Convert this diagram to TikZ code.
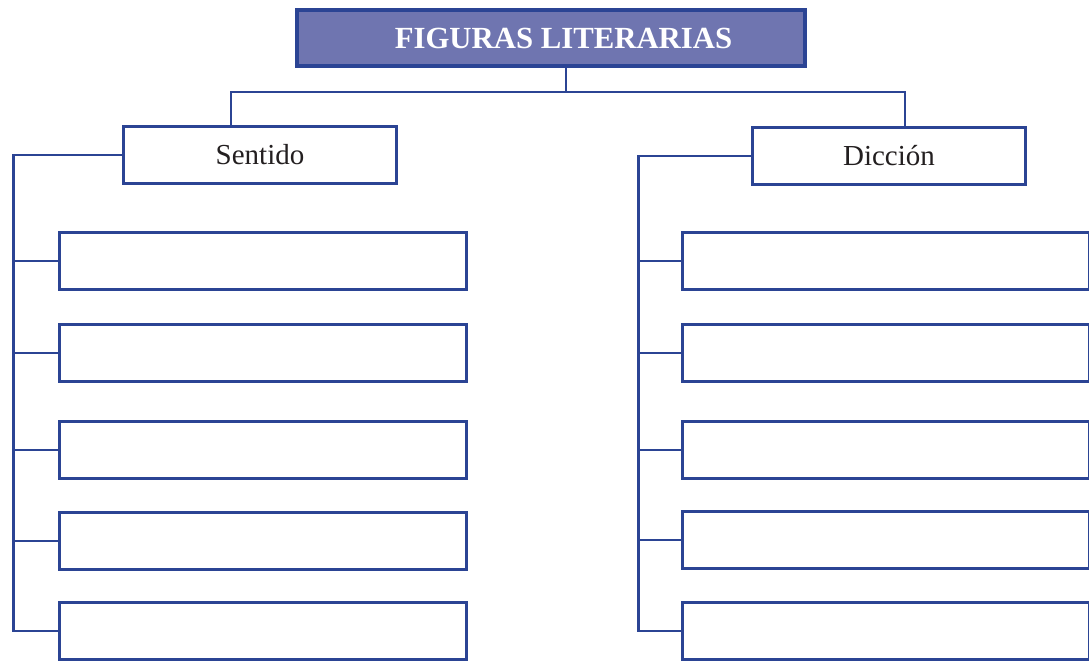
\documentclass[tikz,border=0pt]{standalone}
\usepackage{fontspec}
\setmainfont{Liberation Serif}
\usepackage{tikz}

\definecolor{mapblue}{HTML}{2B4494}
\definecolor{titlefill}{HTML}{6F75B0}
\definecolor{inktext}{HTML}{231F20}

\tikzset{
  cell/.style={draw=mapblue, line width=1.5pt, fill=white, inner sep=0pt, outer sep=0pt},
  bigcell/.style={cell, minimum width=8.15cm, minimum height=1.15cm},
  headcell/.style={cell, minimum width=5.47cm, minimum height=1.15cm,
    text=inktext, font=\fontsize{16.5}{18}\selectfont},
  titlecell/.style={draw=mapblue, line width=2.3pt, fill=titlefill,
    minimum width=10.16cm, minimum height=1.12cm, inner sep=0pt, outer sep=0pt,
    text=white, font=\fontsize{17.5}{20}\selectfont\bfseries},
  link/.style={draw=mapblue, line width=1.5pt}
}

\begin{document}
\begin{tikzpicture}[x=0.02cm, y=-0.02cm]
\useasboundingbox (0,0) rectangle (1089,663);

% title and the two branches
\node[titlecell] (title) at (551,38) {\hspace*{0.5cm}FIGURAS LITERARIAS};
\node[headcell] (sentido) at (260,155) {Sentido};
\node[headcell] (diccion) at (889,156) {Dicción};

\draw[link] ([xshift=0.3cm]title.south) --++ (0,26) -| ([xshift=-0.58cm]sentido.north);
\draw[link] ([xshift=0.3cm]title.south) --++ (0,26) -| ([xshift=0.32cm]diccion.north);

% empty boxes
\foreach \i/\y in {1/261, 2/353, 3/450, 4/541, 5/631}
  \node[bigcell] (s\i) at (263,\y) {};
\foreach \i/\y in {1/261, 2/353, 3/450, 4/540, 5/631}
  \node[bigcell] (d\i) at (886,\y) {};

% left side
\draw[link] (sentido.west) --++ (-110,0) |- (s5.west);
\foreach \i in {1,...,4}
  \draw[link] (s\i.west) --++ (-46,0);

% right side
\draw[link] (diccion.west) --++ (-114,0) |- (d5.west);
\foreach \i in {1,...,4}
  \draw[link] (d\i.west) --++ (-43,0);
\end{tikzpicture}
\end{document}
